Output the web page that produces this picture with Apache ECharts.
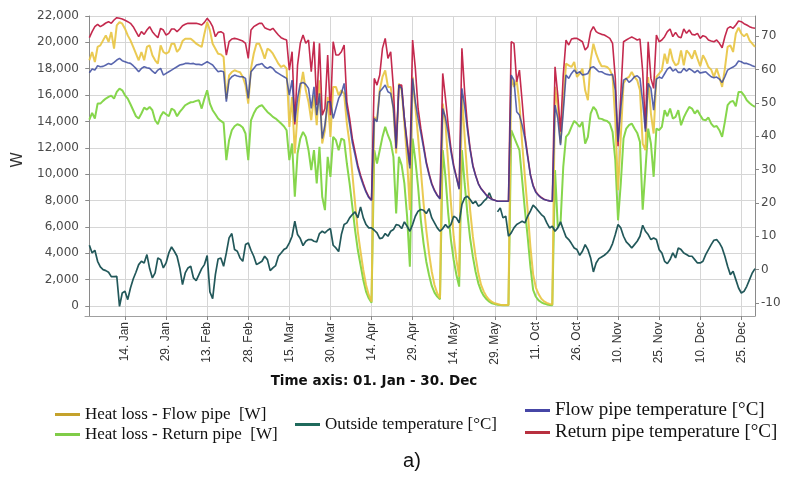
<!DOCTYPE html>
<html>
<head>
<meta charset="utf-8">
<script src="https://cdn.jsdelivr.net/npm/echarts/dist/echarts.min.js"></script>
<style>
html,body{margin:0;padding:0;background:#fff;}
#chart{width:798px;height:485px;}
</style>
</head>
<body>
<div id="chart"></div>
<script>
// x positions are day indices (01 Jan .. 31 May, then 29 Sep .. 30 Dec)
const tickIdx = [13, 28, 43, 58, 73, 88, 103, 118, 133, 148, 163, 178, 193, 208, 223, 238];
const tickLabels = ['14. Jan', '29. Jan', '13. Feb', '28. Feb', '15. Mar', '30. Mar', '14. Apr', '29. Apr',
  '14. May', '29. May', '11. Oct', '26. Oct', '10. Nov', '25. Nov', '10. Dec', '25. Dec'];
const leftTicks = [0, 2000, 4000, 6000, 8000, 10000, 12000, 14000, 16000, 18000, 20000, 22000];
const rightTicks = [-10, 0, 10, 20, 30, 40, 50, 60, 70];

// Heat loss - Flow pipe [W]
const heatFlow = [
18640,19270,18510,19650,19770,20150,20530,20030,20780,19520,
21290,21540,21415,21040,20530,20150,19650,19140,18640,19270,
18640,19650,19770,19020,18640,18385,19770,19270,19140,19270,
19900,19900,19270,19520,20100,20280,20280,20280,20100,19900,
19770,19650,20660,21540,20910,19900,19520,19140,19090,18890,
15735,17500,17750,17880,17800,17730,17375,16745,15355,18005,
19140,19900,19900,19395,18765,19520,19395,19140,18765,18385,
18130,18260,18005,13590,15860,11570,14600,16490,17750,16365,
15480,14090,15985,13715,17125,12325,13335,15860,12830,16620,
16620,15985,16365,16110,13840,12325,10050,7780,5630,4120,
2730,1595,835,330,14345,14090,16365,17375,17880,16620,
16620,14850,11570,16870,16365,13840,11060,7275,17375,15100,
12830,10305,7780,5760,3990,2600,1595,960,585,15355,
13840,10810,7780,5255,3490,2225,16110,12830,9800,7275,
5255,3740,2480,1595,1090,710,460,305,205,155,
100,80,80,80,17375,16620,17125,15355,12325,9800,
7275,4500,2400,1400,900,550,350,230,160,120,
16620,15100,12325,15355,18385,18260,18130,18510,17375,17630,
18005,16365,15610,18640,19900,19140,18585,18185,18185,18130,
17930,17425,14090,8790,12830,16870,17250,17375,17750,17375,
17125,16365,12325,11820,17375,14600,13085,17375,17630,17880,
19140,18385,19520,18640,18260,18385,19395,18260,19395,19140,
18765,19395,18765,18185,19020,18640,18130,17930,17375,18005,
17375,16620,18005,19650,19770,19270,20660,21110,20660,20455,
20660,20150,19900,19650];

// Heat loss - Return pipe [W]
const heatReturn = [
14140,14650,14220,15355,15355,15560,15735,15860,15960,15735,
16240,16490,16365,15985,15735,15305,14850,14395,14220,14600,
15050,14900,15100,14850,14090,13790,14395,14725,14545,14395,
14975,14850,14395,14725,14975,15230,15355,15455,15480,15560,
15610,14975,15735,16365,15355,14850,14545,14220,14040,13890,
11060,12580,13335,13640,13790,13715,13540,13085,11060,14090,
14600,14975,15155,15230,14975,14725,14545,14345,14220,14040,
13840,13640,13335,11060,12325,8285,11570,12705,13210,12830,
11820,10305,11820,9295,12075,8285,7275,11315,9800,12830,
12580,11820,12705,12580,10810,9295,7530,5760,4245,3110,
1970,1090,585,255,11820,10810,11820,12830,13590,12955,
12450,11315,7020,11315,10685,9295,6770,2980,12705,11060,
9045,6515,4750,3360,2350,1520,1015,710,510,11820,
9800,7020,5005,3490,2350,1470,11820,9295,7020,5130,
3740,2600,1720,1140,760,510,330,205,155,100,
80,55,55,55,13335,12830,12325,11820,9545,7275,
5255,3000,1215,700,420,280,180,120,80,60,
10305,6010,6265,10560,12830,13080,13590,14040,13840,13590,
13965,12325,12830,14600,15100,14850,14220,14195,14090,14040,
13840,13210,11060,6500,9295,12705,13460,13715,13840,13460,
13130,12450,7300,10305,13460,12325,9800,13460,13335,13590,
14850,14395,14975,14220,14345,14850,13715,14295,14725,15100,
14975,14600,14850,14470,14140,14090,14295,13840,13590,13660,
13335,12830,13965,15230,15480,15560,15155,16240,16240,15985,
15610,15405,15230,15100];

// Outside temperature [°C]
const outsideT = [
7.3,5.0,5.8,2.5,0.8,0.0,-0.3,-0.8,-2.1,-2.1,
-2.0,-11.0,-7.0,-6.5,-9.0,-5.5,-2.8,-0.8,1.5,2.5,
2.0,4.5,0.3,-2.5,-1.0,3.5,3.0,0.5,2.0,5.0,
6.8,5.5,4.0,0.5,-4.5,-1.0,0.5,1.0,-2.5,-3.3,
-1.5,0.3,1.5,4.2,-6.7,-8.7,-1.5,3.2,3.5,1.0,
5.0,9.5,10.8,6.0,5.5,3.5,2.5,7.5,8.0,5.8,
4.0,1.5,2.0,2.5,4.0,3.0,-0.3,0.5,1.2,4.0,
5.0,6.0,6.5,8.0,10.0,14.5,10.5,9.3,7.2,8.5,
9.0,9.0,8.5,8.3,10.8,11.5,11.0,11.8,12.3,7.3,
6.5,5.4,10.5,13.5,14.0,15.5,16.5,17.3,15.5,18.8,
15.5,13.5,12.5,12.5,11.8,11.0,9.3,9.5,10.8,10.0,
11.5,12.0,13.5,13.3,12.3,14.3,13.0,11.5,13.5,16.0,
17.5,18.0,17.8,16.8,18.3,15.5,14.0,12.5,11.5,12.3,
13.5,12.5,13.5,16.0,15.5,14.0,19.5,21.5,22.0,21.0,
19.8,20.5,19.0,19.5,20.5,21.3,23.0,21.0,null,17.3,
18.5,15.5,16.0,10.0,11.0,12.5,13.5,14.0,14.5,14.0,
16.0,17.5,19.3,18.5,17.5,16.5,15.8,14.0,12.5,13.0,
11.5,12.5,14.3,12.0,9.8,9.0,7.8,6.5,6.0,4.3,
5.5,7.5,6.0,3.5,-0.7,2.0,3.3,3.8,4.3,5.0,
6.0,7.8,10.5,13.5,12.5,10.0,8.3,7.5,6.5,7.5,
8.5,10.0,13.3,11.5,10.5,9.0,9.5,9.0,6.0,5.0,
2.5,1.8,3.0,5.0,3.5,6.5,6.0,5.0,4.5,4.0,
4.0,3.0,2.0,2.0,2.5,4.5,6.0,7.5,8.8,9.0,
8.0,6.5,4.0,1.0,-1.5,-0.5,-3.0,-5.5,-7.0,-6.5,
-5.0,-3.0,-1.0,0.3];

// Flow pipe temperature [°C]
const flowT = [
59.0,60.1,59.8,61.1,60.8,60.9,61.3,61.8,61.5,62.1,
62.8,63.3,62.6,62.3,62.0,61.8,61.1,60.3,59.3,60.3,
60.8,60.5,60.3,59.5,58.8,59.8,60.3,58.3,58.8,59.3,
59.8,60.3,60.8,61.3,61.5,61.8,61.8,61.7,61.8,61.5,
61.5,61.3,61.8,62.3,61.8,61.3,60.3,59.3,59.5,59.3,
50.3,56.8,57.8,58.3,58.0,57.8,57.8,57.3,51.3,59.3,
60.3,61.3,61.5,61.8,60.8,60.3,60.8,60.3,59.3,58.8,
58.3,57.8,57.3,52.3,56.8,44.3,51.3,55.8,56.1,55.5,
54.3,48.3,54.8,46.3,52.8,39.3,43.3,50.3,50.3,45.3,
48.3,51.3,52.8,55.8,48.3,43.5,38.0,34.3,30.5,27.7,
25.3,23.2,21.6,20.7,45.3,44.3,53.3,54.3,55.3,53.3,
52.8,48.3,36.3,55.3,54.3,45.3,37.3,30.3,57.3,50.3,
45.3,41.0,36.5,31.8,28.4,25.5,23.6,22.2,21.2,48.3,
45.5,41.0,35.3,30.8,27.5,24.1,54.3,49.0,42.0,35.8,
31.0,28.1,25.7,24.2,23.2,22.2,21.5,21.0,20.8,20.5,
20.5,20.5,20.5,20.5,58.3,56.8,47.3,46.3,43.3,39.3,
33.8,28.3,25.0,23.1,22.2,21.5,21.0,20.8,20.6,20.5,
49.3,45.3,37.3,47.3,58.3,57.3,58.8,59.8,58.8,59.3,
58.3,58.5,58.8,60.5,60.8,60.1,59.3,59.3,58.8,58.5,
58.3,58.5,53.8,38.3,48.3,56.8,57.3,56.1,56.8,57.8,
58.1,57.3,50.3,41.3,55.8,54.3,47.8,57.1,57.7,57.3,
58.7,60.1,60.7,59.5,60.1,59.1,59.1,60.3,59.5,60.2,
59.7,59.0,59.7,58.9,59.1,59.3,58.5,57.8,57.5,57.7,
57.1,56.1,57.8,59.8,60.3,60.7,61.3,62.5,62.3,61.8,
61.8,61.5,61.1,60.8];

// Return pipe temperature [°C]
const returnT = [
69.5,71.3,72.8,73.5,72.8,73.3,73.9,74.3,73.8,74.8,
75.5,75.3,75.1,74.7,74.3,73.8,72.8,71.3,69.8,71.3,
70.5,71.8,72.8,71.3,70.3,69.5,72.3,71.8,70.3,70.8,
72.1,72.1,71.3,72.1,73.1,73.5,73.8,73.8,73.8,73.8,
73.6,73.3,74.1,75.3,74.3,72.8,69.8,71.1,71.3,70.8,
64.3,68.3,69.1,69.3,69.1,68.8,68.5,67.8,63.3,71.8,
72.8,73.3,73.8,73.8,72.5,72.1,71.8,72.3,71.3,70.3,
69.5,69.1,68.8,59.8,65.3,43.5,61.3,67.8,70.3,67.8,
68.8,59.3,68.3,49.3,67.8,46.3,48.3,64.3,46.3,68.3,
64.3,64.3,65.3,67.3,50.3,45.3,39.3,35.3,31.3,28.3,
25.8,23.5,21.8,20.8,57.3,55.3,58.3,66.3,69.3,63.3,
65.3,54.3,36.3,55.3,55.3,45.3,38.3,31.3,68.8,60.3,
48.3,42.3,37.3,32.3,28.8,25.8,23.8,22.3,21.3,58.8,
51.3,43.3,36.3,31.3,27.8,24.3,66.3,53.3,43.3,36.3,
31.3,28.3,25.8,24.3,23.3,22.3,21.6,21.1,20.8,20.5,
20.5,20.5,20.5,20.5,68.3,67.8,56.3,59.8,50.3,40.3,
34.3,28.5,25.3,23.3,22.3,21.6,21.1,20.8,20.6,20.5,
60.8,52.3,41.3,58.3,68.8,67.3,69.1,69.3,69.3,68.8,
68.3,65.8,66.8,71.3,72.8,71.3,70.8,70.5,70.3,69.8,
69.3,67.8,57.3,37.0,52.3,68.3,68.8,69.3,69.7,69.3,
68.8,69.1,59.3,42.3,68.3,57.3,54.3,70.3,68.3,68.8,
69.8,71.3,72.1,69.8,71.1,69.8,69.5,72.1,70.8,71.8,
70.5,70.3,70.8,69.3,70.1,69.8,68.8,68.5,68.3,68.8,
67.8,66.5,69.8,72.3,72.8,72.3,73.3,74.5,74.3,73.7,
73.3,72.8,72.5,72.3];

const pairs = arr => arr.map((v, i) => [i, v]);
const N_FLOW = 'Heat loss - Flow pipe  [W]';
const N_RET = 'Heat loss - Return pipe  [W]';
const N_OUT = 'Outside temperature [\u00B0C]';
const N_FT = 'Flow pipe temperature [\u00B0C]';
const N_RT = 'Return pipe temperature [\u00B0C]';

const legendBase = {orient: 'vertical', icon: 'rect', itemWidth: 25, itemHeight: 3, itemGap: 3,
  padding: 0, selectedMode: false,
  textStyle: {fontFamily: 'Liberation Serif', fontSize: 17, color: '#111'}};

const chart = echarts.init(document.getElementById('chart'), null, {renderer: 'canvas'});
chart.setOption({
  animation: false,
  backgroundColor: '#fff',
  grid: {left: 85, right: 43, top: 16, bottom: 169, containLabel: false},
  legend: [
    Object.assign({}, legendBase, {data: [N_FLOW, N_RET], left: 55, top: 406}),
    Object.assign({}, legendBase, {data: [N_OUT], left: 295, top: 416}),
    Object.assign({}, legendBase, {data: [N_FT, N_RT], left: 525, top: 401, itemGap: 3,
      textStyle: {fontFamily: 'Liberation Serif', fontSize: 19, color: '#111'}})
  ],
  xAxis: {
    type: 'value', min: -1.6, max: 243,
    axisLine: {show: true, onZero: false, lineStyle: {color: '#a0a0a0'}},
    axisTick: {show: true, length: 4, customValues: tickIdx, lineStyle: {color: '#888'}},
    axisLabel: {
      customValues: tickIdx, rotate: 90, margin: 6,
      fontFamily: 'Liberation Sans', fontSize: 12, color: '#333',
      formatter: v => tickLabels[tickIdx.indexOf(Math.round(v))] || ''
    },
    splitLine: {show: true, lineStyle: {color: '#d6d6d6', width: 1}}
  },
  yAxis: [
    {
      type: 'value', position: 'left', min: -760, max: 22000,
      axisLine: {show: true, lineStyle: {color: '#8a8a8a'}},
      axisTick: {show: true, length: 4, customValues: leftTicks, lineStyle: {color: '#8a8a8a'}},
      axisLabel: {customValues: leftTicks, margin: 6, fontFamily: 'DejaVu Sans', fontSize: 12, color: '#4a4a4a',
        formatter: v => Math.round(v).toLocaleString('en-US')},
      splitLine: {show: true, lineStyle: {color: '#d6d6d6', width: 1}}
    },
    {
      type: 'value', position: 'right', min: -13.9, max: 76,
      axisLine: {show: true, lineStyle: {color: '#8a8a8a'}},
      axisTick: {show: true, length: 4, customValues: rightTicks, lineStyle: {color: '#8a8a8a'}},
      axisLabel: {customValues: rightTicks, margin: 6, fontFamily: 'DejaVu Sans', fontSize: 12, color: '#4a4a4a'},
      splitLine: {show: false}
    }
  ],
  graphic: [
    {type: 'text', left: 10, top: 152, rotation: Math.PI / 2,
      style: {text: 'W', font: '16px "DejaVu Sans"', fill: '#333'}},
    {type: 'text', x: 800, y: 166, rotation: Math.PI / 2,
      style: {text: '\u00B0C', font: '14px "DejaVu Sans"', fill: '#555', textAlign: 'center', textVerticalAlign: 'top'}},
    {type: 'text', x: 374, y: 381,
      style: {text: 'Time axis: 01. Jan - 30. Dec', font: 'bold 13.5px "DejaVu Sans"', fill: '#111',
        textAlign: 'center', textVerticalAlign: 'middle'}},
    {type: 'text', x: 412, y: 461,
      style: {text: 'a)', font: '20px "Liberation Sans"', fill: '#111', textAlign: 'center', textVerticalAlign: 'middle'}}
  ],
  series: [
    {name: N_RET, type: 'line', yAxisIndex: 0, data: pairs(heatReturn), showSymbol: false, color: '#80cc48',
      lineStyle: {width: 2, color: '#86d64c'}, z: 2},
    {name: N_FLOW, type: 'line', yAxisIndex: 0, data: pairs(heatFlow), showSymbol: false, color: '#c4a22c',
      lineStyle: {width: 2, color: '#e8c440', opacity: 0.9}, z: 3},
    {name: N_OUT, type: 'line', yAxisIndex: 1, data: pairs(outsideT), showSymbol: false, color: '#1f6a5c',
      connectNulls: false, lineStyle: {width: 1.7, color: '#22585a'}, z: 4},
    {name: N_RT, type: 'line', yAxisIndex: 1, data: pairs(returnT), showSymbol: false, color: '#b8303f',
      lineStyle: {width: 1.6, color: '#c42a4e'}, z: 5},
    {name: N_FT, type: 'line', yAxisIndex: 1, data: pairs(flowT), showSymbol: false, color: '#4646a6',
      lineStyle: {width: 1.6, color: '#30409a', opacity: 0.8}, z: 6}
  ]
});
</script>
</body>
</html>
